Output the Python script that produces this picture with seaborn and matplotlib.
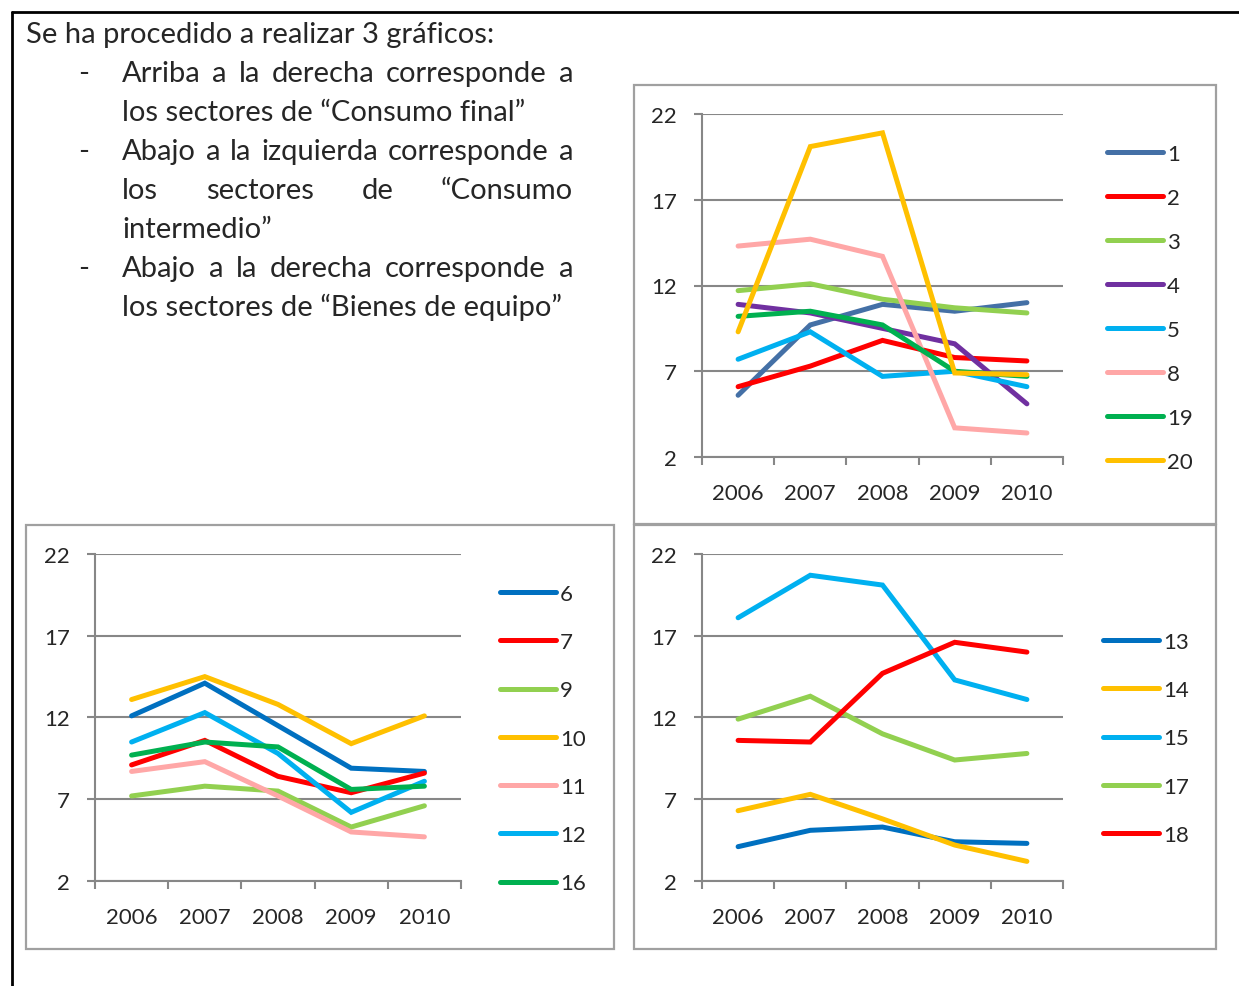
import numpy as np
import pandas as pd
import seaborn as sns
import matplotlib.pyplot as plt
from matplotlib.lines import Line2D
from matplotlib.patches import Rectangle
from matplotlib.ticker import FixedLocator, NullFormatter

W, H = 1239, 987

years = [2006, 2007, 2008, 2009, 2010]

# Consumo final
sector_1 = [5.6, 9.7, 10.9, 10.5, 11.0]
sector_2 = [6.1, 7.3, 8.8, 7.8, 7.6]
sector_3 = [11.7, 12.1, 11.2, 10.7, 10.4]
sector_4 = [10.9, 10.4, 9.5, 8.6, 5.1]
sector_5 = [7.7, 9.3, 6.7, 7.0, 6.1]
sector_8 = [14.3, 14.7, 13.7, 3.7, 3.4]
sector_19 = [10.2, 10.5, 9.7, 7.0, 6.7]
sector_20 = [9.3, 20.1, 20.9, 6.9, 6.8]

# Consumo intermedio
sector_6 = [12.1, 14.1, 11.5, 8.9, 8.7]
sector_7 = [9.1, 10.6, 8.4, 7.4, 8.6]
sector_9 = [7.2, 7.8, 7.5, 5.3, 6.6]
sector_10 = [13.1, 14.5, 12.8, 10.4, 12.1]
sector_11 = [8.7, 9.3, 7.2, 5.0, 4.7]
sector_12 = [10.5, 12.3, 9.8, 6.2, 8.1]
sector_16 = [9.7, 10.5, 10.2, 7.6, 7.8]

# Bienes de equipo
sector_13 = [4.1, 5.1, 5.3, 4.4, 4.3]
sector_14 = [6.3, 7.3, 5.8, 4.2, 3.2]
sector_15 = [18.1, 20.7, 20.1, 14.3, 13.1]
sector_17 = [11.9, 13.3, 11.0, 9.4, 9.8]
sector_18 = [10.6, 10.5, 14.7, 16.6, 16.0]

final_names = ["1", "2", "3", "4", "5", "8", "19", "20"]
final_values = [sector_1, sector_2, sector_3, sector_4, sector_5, sector_8, sector_19, sector_20]
inter_names = ["6", "7", "9", "10", "11", "12", "16"]
inter_values = [sector_6, sector_7, sector_9, sector_10, sector_11, sector_12, sector_16]
equipo_names = ["13", "14", "15", "17", "18"]
equipo_values = [sector_13, sector_14, sector_15, sector_17, sector_18]

colors = {
    "1": "#4470A6", "2": "#FF0000", "3": "#92D050", "4": "#7030A0",
    "5": "#00B0F0", "8": "#FFA7A7", "19": "#00B050", "20": "#FFC000",
    "6": "#0070C0", "7": "#FF0000", "9": "#92D050", "10": "#FFC000",
    "11": "#FFA7A7", "12": "#00B0F0", "16": "#00B050",
    "13": "#0070C0", "14": "#FFC000", "15": "#00B0F0", "17": "#92D050", "18": "#FF0000",
}

grey = "#878787"
lw = 3.6

sns.set_style("ticks")
plt.rcParams["font.family"] = ["Lato", "DejaVu Sans"]

fig = plt.figure(figsize=(W / 100, H / 100), dpi=100)


def box(x0, y0, x1, y1):
    # pixel box (top-left origin) -> figure fraction rect
    return [x0 / W, 1 - y1 / H, (x1 - x0) / W, (y1 - y0) / H]


def to_long(names, series):
    rows = []
    for name, vals in zip(names, series):
        for yr, v in zip(years, vals):
            rows.append([yr, v, name])
    return pd.DataFrame(rows, columns=["year", "value", "sector"])


def draw_panel(rect, names, series, leg_x, leg_y, spacing):
    ax = fig.add_axes(rect)
    df = to_long(names, series)
    sns.lineplot(data=df, x="year", y="value", hue="sector", hue_order=names,
                 palette=colors, linewidth=lw, legend=False, ax=ax,
                 solid_capstyle="round", solid_joinstyle="miter")
    ax.set_xlim(2005.5, 2010.5)
    ax.set_ylim(2, 22)
    ax.set_yticks([2, 7, 12, 17, 22])
    ax.xaxis.set_major_locator(FixedLocator(np.arange(2005.5, 2011, 1)))
    ax.xaxis.set_major_formatter(NullFormatter())
    ax.set_xticks(years, labels=[str(y) for y in years], minor=True)
    ax.tick_params(axis="x", which="minor", length=0, pad=19, labelsize=16)
    ax.tick_params(axis="x", which="major", length=6, width=1.5, color=grey, direction="out")
    ax.tick_params(axis="y", length=6, width=1.5, color=grey, pad=12, labelsize=16)
    ax.yaxis.grid(True, color=grey, lw=1.5)
    ax.set_axisbelow(True)
    for s in ["top", "right"]:
        ax.spines[s].set_visible(False)
    for s in ["left", "bottom"]:
        ax.spines[s].set_color(grey)
        ax.spines[s].set_linewidth(1.5)
    ax.set_xlabel("")
    ax.set_ylabel("")
    handles = [Line2D([], [], color=colors[n], lw=lw, solid_capstyle="round") for n in names]
    ax.legend(handles, names, loc="upper left", bbox_to_anchor=(leg_x / W, 1 - leg_y / H),
              bbox_transform=fig.transFigure, frameon=False, fontsize=16,
              handlelength=2.5, handletextpad=0.2, labelspacing=spacing,
              borderpad=0, borderaxespad=0)
    return ax


draw_panel(box(702, 115, 1063, 458), final_names, final_values, 1107, 145, 1.08)
draw_panel(box(95, 555, 461, 882), inter_names, inter_values, 500, 585, 1.27)
draw_panel(box(702, 555, 1063, 882), equipo_names, equipo_values, 1103, 633, 1.27)

# panel frames
for x0, y0, x1, y1 in [(634, 86, 1216, 525), (26, 526, 614, 950), (634, 526, 1216, 950)]:
    fig.add_artist(Rectangle((x0 / W, 1 - y1 / H), (x1 - x0) / W, (y1 - y0) / H,
                             transform=fig.transFigure, fill=False, ec="#A0A0A0", lw=1.6))

# page border
fig.add_artist(Line2D([12 / W, 12 / W], [1 - 13 / H, 0], transform=fig.transFigure, color="black", lw=2))
fig.add_artist(Line2D([12 / W, 1], [1 - 13 / H, 1 - 13 / H], transform=fig.transFigure, color="black", lw=2))

# body text
renderer = fig.canvas.get_renderer()
text_size = 21


def put_line(s, x0, y, x1=None):
    if x1 is None:
        fig.text(x0 / W, 1 - y / H, s, fontsize=text_size, va="baseline")
        return
    words = s.split()
    texts = [fig.text(x0 / W, 1 - y / H, w, fontsize=text_size, va="baseline") for w in words]
    widths = [t.get_window_extent(renderer).width for t in texts]
    gap = (x1 - x0 - sum(widths)) / (len(words) - 1)
    x = x0
    for t, w in zip(texts, widths):
        t.set_x(x / W)
        x += w + gap


put_line("Se ha procedido a realizar 3 gráficos:", 26, 43)
for y in [82, 160, 277]:
    put_line("-", 78, y)
put_line("Arriba a la derecha corresponde a", 122, 82, 573)
put_line("los sectores de “Consumo final”", 122, 121)
put_line("Abajo a la izquierda corresponde a", 122, 160, 573)
put_line("los sectores de “Consumo", 122, 199, 573)
put_line("intermedio”", 122, 238)
put_line("Abajo a la derecha corresponde a", 122, 277, 573)
put_line("los sectores de “Bienes de equipo”", 122, 316)

fig.savefig("out.png", dpi=100)
